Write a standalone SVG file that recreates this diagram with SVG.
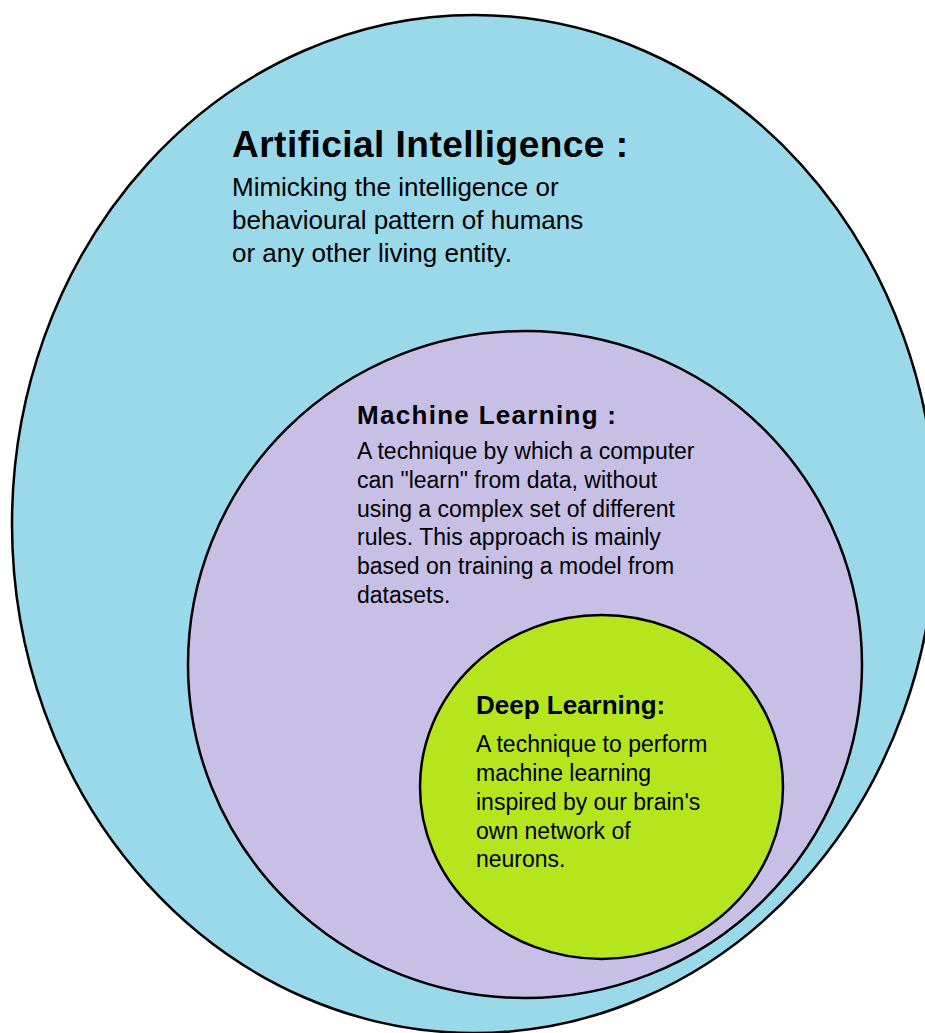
<svg xmlns="http://www.w3.org/2000/svg" width="925" height="1033" viewBox="0 0 925 1033">
  <style>
    .ring { stroke: #000000; stroke-width: 2.5; }
    .ai { fill: #99D9EA; }
    .ml { fill: #C8BFE7; }
    .dl { fill: #B5E61D; }
    text { font-family: "Liberation Sans", Arial, sans-serif; fill: #000000; }
    .title { font-weight: bold; }
  </style>
  <rect x="0" y="0" width="925" height="1033" fill="#FFFFFF"/>
  <g id="connectors"></g>
  <g id="artificial-intelligence">
    <ellipse class="ring ai" cx="474" cy="524" rx="462" ry="509"/>
    <text class="title" x="232" y="157" font-size="37" textLength="396" lengthAdjust="spacing">Artificial Intelligence :</text>
    <text x="232" y="196" font-size="26">Mimicking the intelligence or</text>
    <text x="232" y="229" font-size="26">behavioural pattern of humans</text>
    <text x="232" y="262" font-size="26">or any other living entity.</text>
  </g>
  <g id="machine-learning">
    <ellipse class="ring ml" cx="525" cy="664.5" rx="337" ry="333.5"/>
    <text class="title" x="357" y="424" font-size="26" textLength="259" lengthAdjust="spacing">Machine Learning :</text>
    <text x="357" y="459" font-size="23">A technique by which a computer</text>
    <text x="357" y="487.5" font-size="23">can "learn" from data, without</text>
    <text x="357" y="516.5" font-size="23">using a complex set of different</text>
    <text x="357" y="545" font-size="23">rules. This approach is mainly</text>
    <text x="357" y="574" font-size="23">based on training a model from</text>
    <text x="357" y="603" font-size="23">datasets.</text>
  </g>
  <g id="deep-learning">
    <ellipse class="ring dl" cx="601.5" cy="787" rx="181.5" ry="172"/>
    <text class="title" x="476" y="714" font-size="26">Deep Learning:</text>
    <text x="476" y="752" font-size="23">A technique to perform</text>
    <text x="476" y="781" font-size="23">machine learning</text>
    <text x="476" y="810" font-size="23">inspired by our brain's</text>
    <text x="476" y="838.5" font-size="23">own network of</text>
    <text x="476" y="867" font-size="23">neurons.</text>
  </g>
</svg>
